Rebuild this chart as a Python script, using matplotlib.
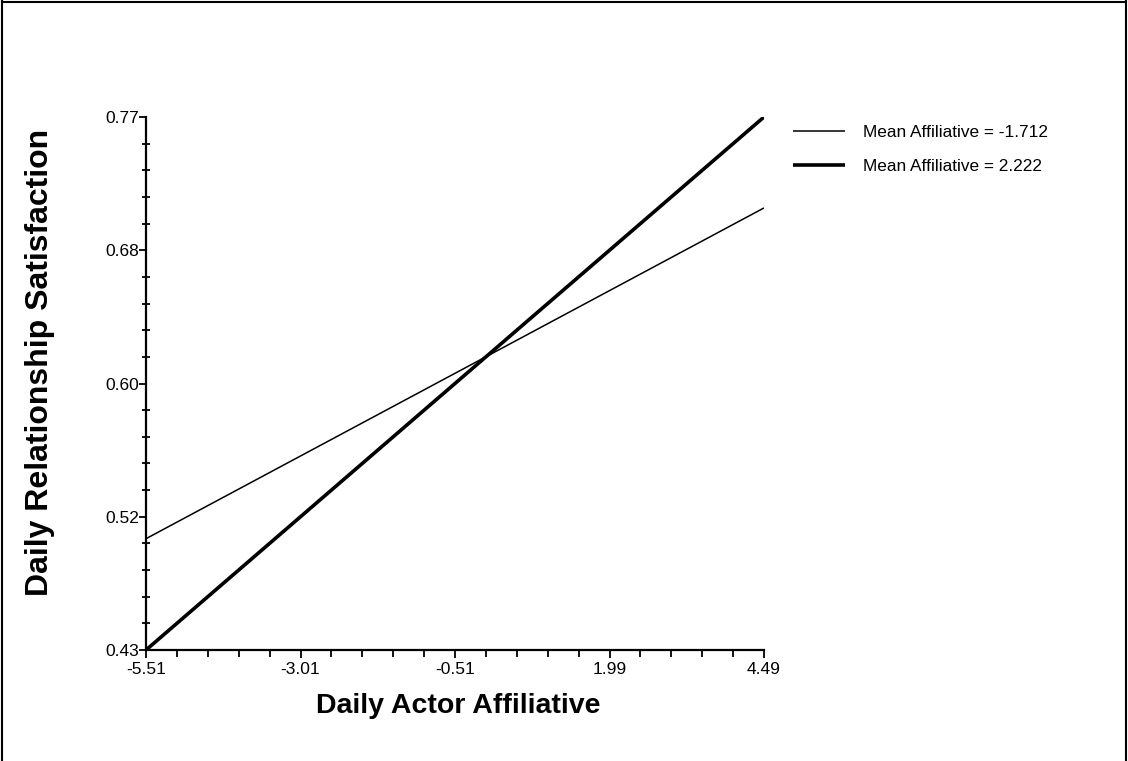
import numpy as np
import matplotlib
matplotlib.use("Agg")
import matplotlib.pyplot as plt
from matplotlib.ticker import AutoMinorLocator
from matplotlib.lines import Line2D

# simple slopes: satisfaction vs daily affiliative at two levels of mean affiliative
x_vals = [-5.51, 4.49]
low_mean = [0.501, 0.712]    # Mean Affiliative = -1.712
high_mean = [0.43, 0.77]     # Mean Affiliative = 2.222
labels = ["Mean Affiliative = -1.712", "Mean Affiliative = 2.222"]

xticks = [-5.51, -3.01, -0.51, 1.99, 4.49]
yticks = [0.43, 0.515, 0.60, 0.685, 0.77]
ytick_labels = ["0.43", "0.52", "0.60", "0.68", "0.77"]

plt.rcParams['font.family'] = ['Liberation Sans', 'DejaVu Sans']

fig = plt.figure(figsize=(11.28, 7.61), dpi=100)
ax = fig.add_axes([146/1128, 1-650/761, (764-146)/1128, (650-117)/761])

l1, = ax.plot(x_vals, low_mean, color='black', lw=1.1, solid_capstyle='butt')
l2, = ax.plot(x_vals, high_mean, color='black', lw=2.6, solid_capstyle='butt')

ax.set_xlim(-5.51, 4.49)
ax.set_ylim(0.43, 0.77)
ax.set_xticks(xticks)
ax.set_xticklabels([f"{v:.2f}" for v in xticks])
ax.set_yticks(yticks)
ax.set_yticklabels(ytick_labels)
ax.xaxis.set_minor_locator(AutoMinorLocator(5))
ax.yaxis.set_minor_locator(AutoMinorLocator(5))

for s in ['top', 'right']:
    ax.spines[s].set_visible(False)
for s in ['left', 'bottom']:
    ax.spines[s].set_linewidth(1.6)

ax.tick_params(axis='both', which='major', direction='out', length=6, width=1.3,
               labelsize=12.5)
ax.tick_params(axis='y', which='major', length=5, pad=0)
ax.tick_params(axis='x', which='major', pad=3)
ax.tick_params(axis='y', which='minor', direction='inout', length=6, width=1.3)
ax.tick_params(axis='x', which='minor', direction='out', length=5, width=1.3)

fig.text(458/1128, 1-706/761, "Daily Actor Affiliative", ha='center', va='center',
         fontsize=20.5, fontweight='bold')
fig.text(40/1128, 1-362/761, "Daily Relationship Satisfaction", ha='center', va='center',
         rotation=90, fontsize=23, fontweight='bold')

ax.legend([l1, l2], labels, loc='upper left', bbox_to_anchor=(793/1128, 1-125/761),
          bbox_transform=fig.transFigure, frameon=False, fontsize=12.4,
          handlelength=3.0, handletextpad=1.05, labelspacing=1.08, borderpad=0,
          borderaxespad=0)

# frame around the figure
fig.add_artist(Line2D([2/1128, 2/1128], [0, 1-1/761], color='black', lw=1.5,
                      transform=fig.transFigure))
fig.add_artist(Line2D([2/1128, 1126/1128], [1-1.5/761, 1-1.5/761], color='black', lw=1.5,
                      transform=fig.transFigure))
fig.add_artist(Line2D([1126/1128, 1126/1128], [0, 1-1/761], color='black', lw=1.5,
                      transform=fig.transFigure))

fig.savefig("out.png", dpi=100)
plt.close()
